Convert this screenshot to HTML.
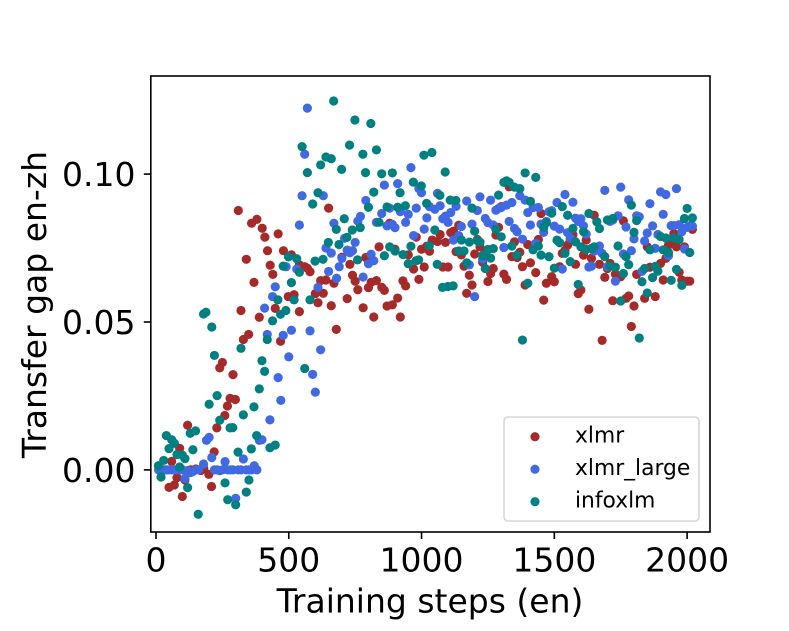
<!DOCTYPE html>
<html>
<head>
<meta charset="utf-8">
<title>Transfer gap scatter</title>
<style>
html,body{margin:0;padding:0;background:#fff;}
svg{display:block;}
text{font-family:"DejaVu Sans","Liberation Sans",sans-serif;fill:#000;}
</style>
</head>
<body>
<svg id="chart" xmlns="http://www.w3.org/2000/svg" width="789" height="631" viewBox="0 0 789 631"></svg>
<script>
const xTickValues = [0, 500, 1000, 1500, 2000];
const yTickValues = [0, 0.05, 0.10];
const yTickLabels = ["0.00", "0.05", "0.10"];
const xAxisLabel = "Training steps (en)";
const yAxisLabel = "Transfer gap en-zh";
const seriesNames = ["xlmr", "xlmr_large", "infoxlm"];

const xlmrPoints = [
[10,0],[20,0],[30,0],[40,0],[49,-.0059],[59,.0029],[69,-.0051],[79,-.0026],[89,.0073],[99,-.009],[109,-.0034],[119,.0151],[130,0],[150,.0003],[169,-.0002],[180,.0005],[199,-.0015],[209,-.0056],[219,.0061],[229,.0142],[240,.0345],[250,.0363],[259,.0184],[269,.0216],[279,.0242],[290,.0322],[299,.0238],[310,.0877],[320,.0539],[329,.0441],[340,.0712],[349,.0458],[360,.0834],[369,.0634],[380,.0847],[389,.0516],[400,.0817],[410,.0787],[420,.0741],[430,.0692],[440,.0661],[449,.0546],[460,.0798],[469,.0435],[480,.0741],[498,.0586],[510,.0727],[520,.0592],[540,.0693],[540,.0535],[560,.0687],[570,.0682],[580,.067],[600,.0596],[610,.0565],[620,.064],[630,.0597],[640,.0642],[650,.0885],[660,.0555],[670,.0631],[679,.0475],[700,.0719],[720,.0579],[730,.0695],[740,.0658],[750,.0638],[760,.0609],[780,.0548],[790,.0718],[800,.0616],[810,.0634],[820,.0517],[830,.064],[840,.0754],[850,.0617],[860,.0607],[870,.0554],[880,.0834],[890,.0558],[900,.0746],[910,.0581],[920,.0517],[930,.0639],[940,.0622],[950,.0727],[970,.0679],[980,.0787],[990,.0644],[1000,.0746],[1010,.0686],[1020,.0756],[1030,.0739],[1040,.0777],[1060,.0772],[1070,.0796],[1080,.0686],[1090,.0769],[1100,.0686],[1110,.0802],[1120,.0807],[1130,.0738],[1140,.0827],[1150,.0727],[1160,.0689],[1170,.0597],[1180,.0658],[1190,.0625],[1200,.073],[1210,.0779],[1220,.0754],[1230,.0702],[1240,.0733],[1250,.0637],[1260,.0664],[1270,.0681],[1280,.0794],[1290,.082],[1300,.089],[1310,.0662],[1320,.0644],[1330,.0957],[1340,.0721],[1350,.0771],[1360,.0718],[1370,.0736],[1380,.0687],[1390,.0625],[1400,.0762],[1410,.07],[1430,.0667],[1440,.0779],[1450,.0867],[1460,.0574],[1470,.0631],[1490,.0653],[1500,.0636],[1520,.0687],[1530,.0732],[1540,.0742],[1550,.076],[1560,.0777],[1570,.0795],[1580,.0695],[1590,.0596],[1600,.0608],[1610,.0726],[1620,.0777],[1630,.0543],[1640,.0715],[1650,.0861],[1670,.0695],[1680,.0438],[1690,.0651],[1700,.0681],[1710,.0698],[1720,.0572],[1730,.0662],[1750,.0653],[1760,.0842],[1770,.058],[1780,.0588],[1790,.0485],[1800,.0554],[1810,.0661],[1840,.058],[1850,.0754],[1860,.0685],[1880,.0586],[1900,.0698],[1910,.0642],[1920,.0715],[1930,.076],[1940,.077],[1950,.0799],[1960,.0754],[1970,.0668],[1980,.0642],[1990,.0754],[2000,.0638],[2010,.0638],[2020,.0813]
];

const xlmrLargePoints = [
[10,0],[20,0],[30,0],[40,0],[50,0],[60,0],[70,0],[80,0],[90,0],[100,0],[109,-.0029],[120,-.0002],[130,-.0009],[140,-.0005],[150,0],[160,0],[179,.002],[190,.01],[200,.011],[210,.0042],[220,0],[230,0],[240,-.0003],[250,0],[260,.0028],[270,0],[280,0],[290,0],[300,-.0096],[310,0],[320,0],[329,.0037],[340,0],[350,0],[360,0],[370,.0014],[380,0],[389,.01],[399,.0102],[409,.0547],[419,.0458],[429,.0169],[439,.0586],[449,.0619],[460,.0312],[470,.0235],[479,.0455],[490,.0687],[500,.0382],[510,.0472],[530,.0679],[540,.0828],[550,.0927],[560,.1067],[570,.1223],[580,.047],[590,.0323],[600,.0263],[610,.0617],[620,.0406],[630,.0927],[640,.075],[650,.0671],[660,.0733],[670,.0834],[680,.0648],[690,.0687],[700,.0715],[710,.0783],[720,.0743],[730,.0734],[740,.0741],[750,.0769],[760,.0841],[770,.0857],[780,.0652],[790,.0911],[800,.0697],[810,.0729],[820,.0707],[830,.0837],[850,.0867],[860,.0963],[870,.0825],[880,.0885],[890,.083],[900,.0819],[910,.0968],[920,.0873],[940,.0837],[950,.0864],[960,.1022],[970,.0792],[980,.0885],[990,.0951],[1000,.0937],[1010,.0814],[1020,.0852],[1030,.089],[1050,.0881],[1060,.0935],[1070,.0893],[1080,.0849],[1090,.0858],[1100,.0837],[1110,.087],[1120,.0777],[1130,.0891],[1140,.0792],[1150,.0823],[1170,.0909],[1180,.0693],[1190,.0831],[1200,.0586],[1210,.0877],[1220,.0923],[1230,.0712],[1240,.085],[1250,.0836],[1260,.0912],[1270,.0828],[1280,.0878],[1290,.0884],[1300,.0887],[1310,.0752],[1320,.0895],[1330,.084],[1340,.0904],[1350,.0816],[1360,.0805],[1370,.0927],[1380,.078],[1390,.0912],[1400,.087],[1410,.0828],[1420,.0887],[1430,.0766],[1440,.0887],[1450,.0831],[1460,.0803],[1470,.084],[1480,.0873],[1490,.0876],[1500,.0824],[1510,.0904],[1520,.0814],[1530,.0679],[1540,.0931],[1550,.0802],[1560,.0783],[1570,.0905],[1580,.0851],[1590,.084],[1600,.0849],[1610,.0825],[1620,.0797],[1630,.0686],[1640,.0689],[1650,.074],[1660,.0743],[1670,.0757],[1680,.0732],[1690,.0945],[1700,.0687],[1710,.084],[1720,.0845],[1730,.0638],[1740,.0859],[1750,.0956],[1760,.073],[1770,.0821],[1780,.0913],[1790,.0741],[1800,.0781],[1810,.0859],[1820,.0856],[1830,.0671],[1840,.0774],[1850,.0801],[1860,.09],[1870,.0825],[1880,.0749],[1890,.0796],[1900,.094],[1910,.0864],[1920,.0931],[1930,.0724],[1940,.0826],[1950,.0826],[1960,.0951],[1970,.0829],[1980,.0805],[1990,.0747],[2000,.082],[2010,.0825],[2020,.0824]
];

const infoxlmPoints = [
[9,.0014],[19,-.0024],[29,.0032],[39,.0116],[49,.0072],[59,.0102],[69,.009],[79,.0052],[89,.001],[99,.005],[109,.0038],[119,-.006],[129,.0124],[139,.0068],[149,.0132],[159,-.015],[179,.0527],[188,.0533],[200,.0222],[210,.0483],[220,.0387],[230,.0251],[240,.0168],[260,-.0044],[270,-.0101],[279,.0142],[289,.0143],[300,-.0118],[309,.006],[320,.0411],[329,.0186],[340,-.0075],[350,-.0034],[359,.0071],[369,.0213],[379,.0116],[389,.0274],[399,.0369],[409,.0333],[419,.0441],[429,.0075],[439,.0504],[449,.0084],[459,.0575],[469,.0526],[479,.0689],[489,.0539],[499,.072],[510,.0633],[520,.0575],[530,.0714],[540,.0668],[550,.1093],[560,.0343],[570,.1005],[580,.0575],[590,.0899],[599,.0706],[610,.0937],[620,.1031],[629,.0712],[640,.1058],[649,.0769],[660,.1052],[669,.1247],[679,.0813],[689,.0762],[699,.1016],[709,.0849],[719,.0786],[729,.1098],[739,.0811],[749,.1183],[759,.071],[769,.0819],[779,.1067],[789,.1005],[800,.0888],[809,.1171],[820,.0939],[830,.1082],[840,.0837],[850,.1001],[860,.0724],[870,.0889],[880,.0754],[890,.1004],[900,.074],[910,.0888],[919,.0937],[930,.0728],[939,.0893],[950,.0697],[960,.0756],[969,.0973],[979,.0707],[989,.071],[999,.096],[1009,.1064],[1019,.0901],[1029,.0758],[1039,.1073],[1050,.0811],[1059,.0695],[1069,.0928],[1079,.0617],[1089,.1007],[1099,.062],[1108,.0912],[1119,.0622],[1129,.0911],[1140,.074],[1150,.0777],[1160,.074],[1170,.07],[1180,.077],[1190,.0885],[1200,.0807],[1210,.0775],[1220,.077],[1230,.0725],[1240,.0681],[1250,.0745],[1260,.0716],[1270,.0748],[1280,.0813],[1290,.0929],[1300,.0788],[1310,.0972],[1320,.0977],[1330,.0972],[1340,.0757],[1350,.0956],[1360,.0726],[1370,.0951],[1380,.0439],[1390,.1004],[1400,.0631],[1410,.0908],[1420,.0744],[1430,.0989],[1440,.0757],[1450,.0726],[1460,.0819],[1470,.0836],[1480,.0721],[1490,.0868],[1500,.0682],[1510,.0777],[1520,.0768],[1530,.089],[1540,.0732],[1550,.0861],[1560,.0704],[1570,.0816],[1580,.0771],[1590,.0627],[1600,.0754],[1610,.0805],[1620,.0745],[1630,.0867],[1640,.0749],[1650,.0754],[1660,.0839],[1670,.0816],[1690,.0721],[1700,.0845],[1710,.0689],[1720,.085],[1730,.0685],[1740,.0757],[1750,.0571],[1760,.0664],[1770,.0721],[1780,.0694],[1790,.0895],[1800,.0803],[1810,.0843],[1820,.0446],[1830,.0636],[1840,.0681],[1850,.0598],[1860,.0744],[1870,.065],[1880,.0688],[1890,.0672],[1900,.0789],[1910,.0744],[1920,.0784],[1930,.0735],[1940,.0641],[1950,.0784],[1960,.0678],[1970,.0779],[1980,.0624],[1990,.085],[2000,.0884],[2010,.0735],[2020,.0852]
];

const svgNS = "http://www.w3.org/2000/svg";
const chart = document.getElementById("chart");
const plotLeft = 150.8, plotRight = 710, plotTop = 76, plotBottom = 532;
const seriesColors = ["#a52a2a", "#4169e1", "#008080"];
const markerRadius = 4.6;

function xScale(step) { return 156 + step * 0.26555; }
function yScale(value) { return 469.9 - value * 2958; }

function make(tag, attrs, text) {
  const el = document.createElementNS(svgNS, tag);
  for (const key in attrs) el.setAttribute(key, attrs[key]);
  if (text !== undefined) el.textContent = text;
  chart.appendChild(el);
  return el;
}

function drawSeries(points, color, name) {
  points.forEach(function (p) {
    const dot = make("circle", { cx: xScale(p[0]), cy: yScale(p[1]), r: markerRadius, fill: color });
    
    
  });
}

drawSeries(xlmrPoints, seriesColors[0], seriesNames[0]);
drawSeries(xlmrLargePoints, seriesColors[1], 'xlmr-large');
drawSeries(infoxlmPoints, seriesColors[2], seriesNames[2]);

const frame = make("rect", { x: plotLeft, y: plotTop, width: plotRight - plotLeft, height: plotBottom - plotTop, fill: "none", stroke: "#000", "stroke-width": 1.6 });



xTickValues.forEach(function (v) {
  const x = xScale(v);
  const tick = make("line", { x1: x, x2: x, y1: plotBottom, y2: plotBottom + 7, stroke: "#000", "stroke-width": 1.6 });
  
  
  const label = make("text", { x: x, y: 571.5, "text-anchor": "middle", "font-size": 33 }, String(v));
  
  
});

yTickValues.forEach(function (v, i) {
  const y = yScale(v);
  const tick = make("line", { x1: plotLeft - 7, x2: plotLeft, y1: y, y2: y, stroke: "#000", "stroke-width": 1.6 });
  
  
  const label = make("text", { x: 135.5, y: y + 12, "text-anchor": "end", "font-size": 33 }, yTickLabels[i]);
  
  
});

const xTitle = make("text", { x: 430, y: 612.3, "text-anchor": "middle", "font-size": 33 }, xAxisLabel);



const yTitle = make("text", { x: 0, y: 0, "text-anchor": "middle", "font-size": 33, transform: "translate(46,304.5) rotate(-90)" }, yAxisLabel);



const legendBox = make("rect", { x: 504, y: 417, width: 195, height: 104, rx: 4, ry: 4, fill: "#fff", "fill-opacity": 0.8, stroke: "#d6d6d6", "stroke-width": 1.6 });



seriesNames.forEach(function (name, i) {
  const y = 436.7 + i * 32.5;
  const marker = make("circle", { cx: 535, cy: y, r: markerRadius, fill: seriesColors[i] });
  
  
  const label = make("text", { x: 575, y: y + 6, "font-size": 21.8 }, name);
  
  
});
</script>
</body>
</html>
